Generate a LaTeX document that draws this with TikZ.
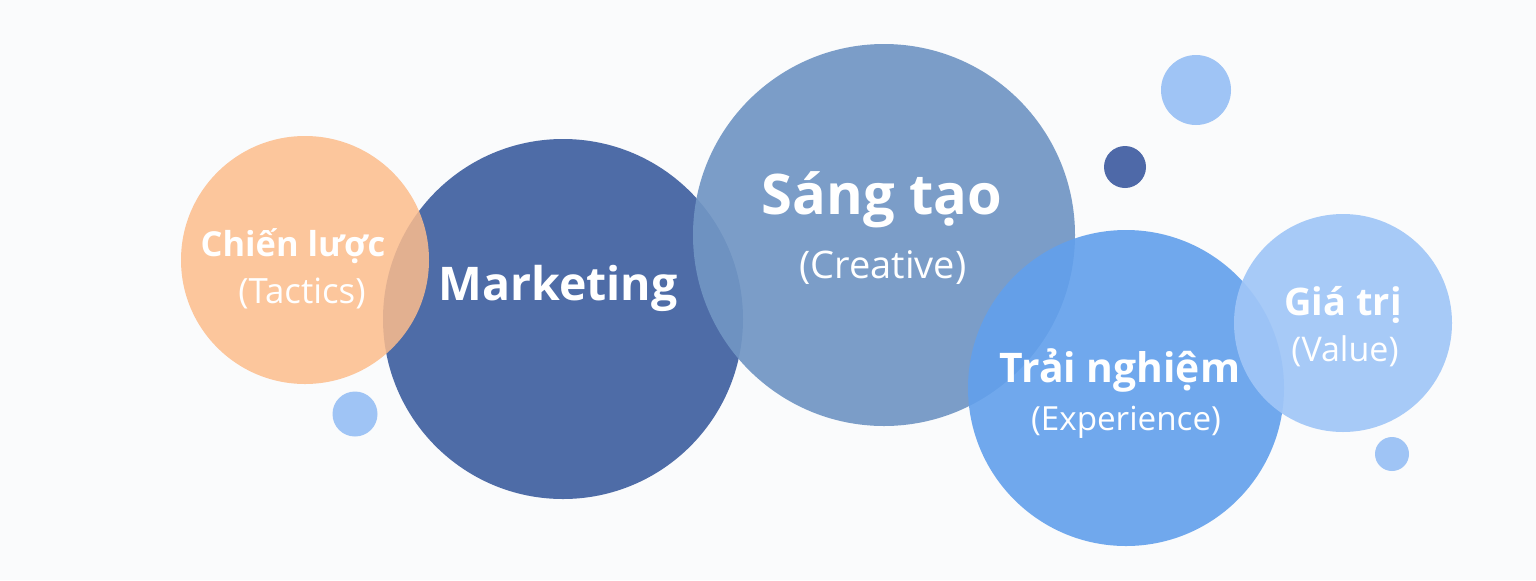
\documentclass[tikz,border=0pt]{standalone}
\usepackage{fontspec}
\setmainfont{Open Sans}
\definecolor{bg}{HTML}{FAFBFC}
\definecolor{corange}{HTML}{FDBD8C}
\definecolor{cmarket}{HTML}{4E6CA7}
\definecolor{ccreat}{HTML}{7196C4}
\definecolor{cexp}{HTML}{62A0EC}
\definecolor{cval}{HTML}{A0C6F7}
\definecolor{cdot}{HTML}{9FC4F5}
\definecolor{cdark}{HTML}{4E69A8}
\tikzset{
  bubble/.style={circle, inner sep=0pt, draw=none},
  ttl/.style={text=white, font=\bfseries, inner sep=0pt},
  sub/.style={text=white, inner sep=0pt},
}
\begin{document}
\begin{tikzpicture}[x=0.5pt,y=-0.5pt]
\fill[bg] (0,0) rectangle (1536,580);
\useasboundingbox (0,0) rectangle (1536,580);
% circles
\node[bubble, fill=cmarket, minimum size=180pt] (mk) at (563,319) {};
\node[bubble, fill=corange, fill opacity=0.85, minimum size=124pt] (ch) at (305,260) {};
\node[bubble, fill=ccreat, fill opacity=0.92, minimum size=191pt] (st) at (884,235) {};
\node[bubble, fill=cexp, fill opacity=0.9, minimum size=158pt] (tn) at (1126,388) {};
\node[bubble, fill=cval, fill opacity=0.92, minimum size=109pt] (gt) at (1343,323) {};
% dots
\node[bubble, fill=cdot, minimum size=22.5pt] (d1) at (355,414) {};
\node[bubble, fill=cdot, minimum size=35pt] (d2) at (1196,90) {};
\node[bubble, fill=cdark, minimum size=21pt] (d3) at (1125,167) {};
\node[bubble, fill=cdot, minimum size=17pt] (d4) at (1392,454) {};
% labels
\node[ttl, font=\bfseries\fontsize{17.2}{19}\selectfont] (t1) at (293,246) {Chiến lược};
\node[sub, font=\fontsize{17.4}{19}\selectfont] (s1) at (302,293) {(Tactics)};
\node[ttl, font=\bfseries\fontsize{23.2}{26}\selectfont] (t2) at (558,288) {Marketing};
\node[ttl, font=\bfseries\fontsize{28}{30}\selectfont] (t3) at (882,200) {Sáng tạo};
\node[sub, font=\fontsize{19}{21}\selectfont] (s3) at (883,268) {(Creative)};
\node[ttl, font=\bfseries\fontsize{20.4}{22}\selectfont] (t4) at (1120,370) {Trải nghiệm};
\node[sub, font=\fontsize{16.6}{18}\selectfont] (s4) at (1126,422) {(Experience)};
\node[ttl, font=\bfseries\fontsize{19}{21}\selectfont] (t5) at (1343,305) {Giá trị};
\node[sub, font=\fontsize{17}{19}\selectfont] (s5) at (1345,351) {(Value)};
\end{tikzpicture}
\end{document}
